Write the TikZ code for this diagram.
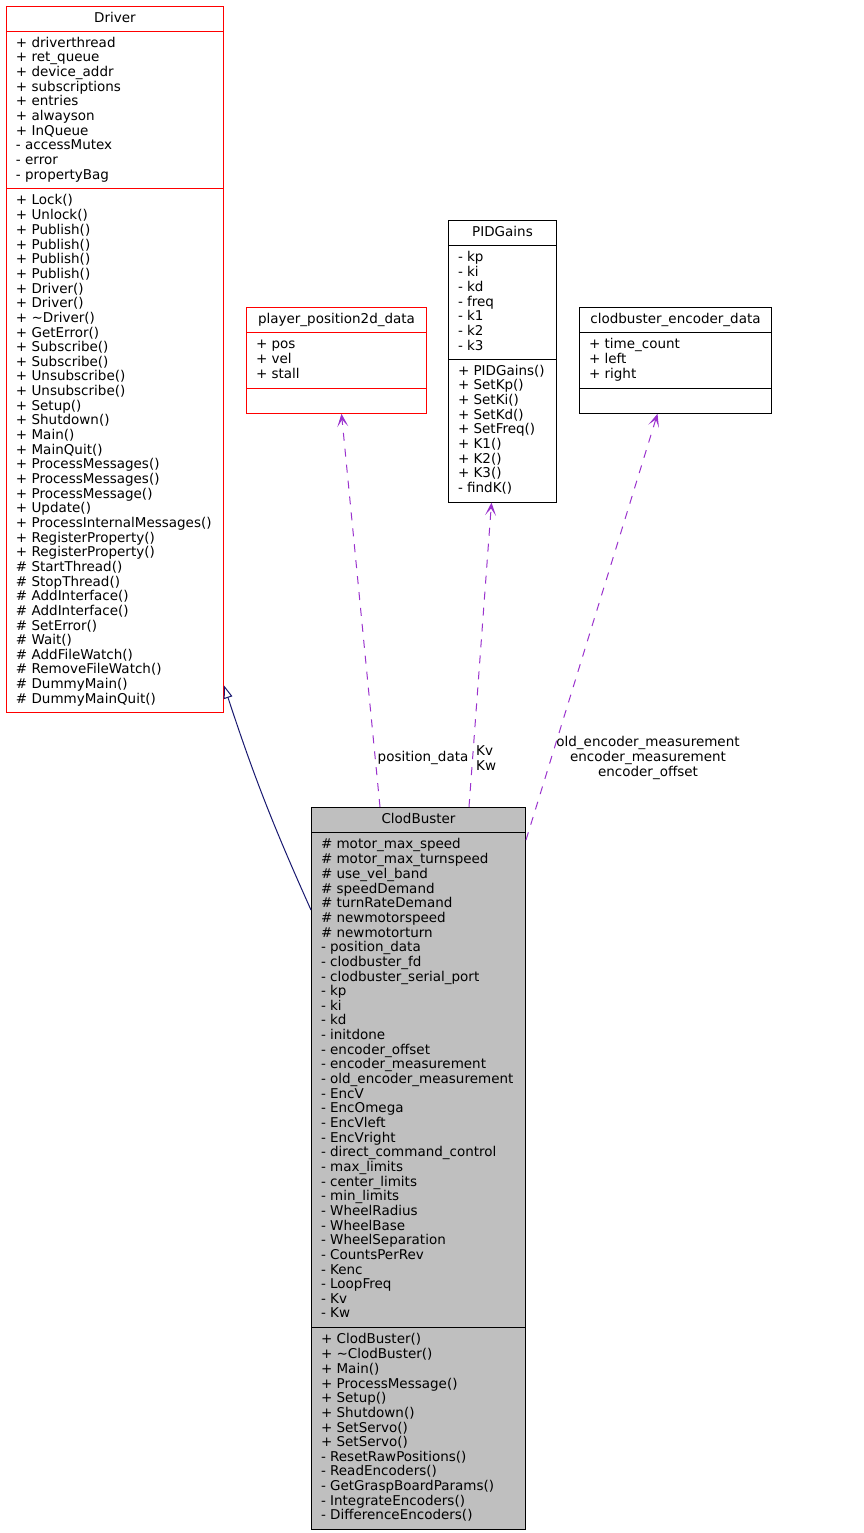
\documentclass[tikz,border=0pt]{standalone}
\usepackage{fontspec}
\setmainfont{DejaVu Sans}
\usetikzlibrary{shapes.multipart,arrows.meta}
\definecolor{edgeblue}{HTML}{191970}
\definecolor{edgepurple}{HTML}{9A32CD}
\definecolor{classgray}{HTML}{BFBFBF}
\tikzset{
  umlfont/.style={font=\fontsize{13.5}{14.65}\selectfont},
  umlclass/.style={umlfont, draw=black, line width=1pt, rectangle split,
    rectangle split parts=3, rectangle split part align={center,left,left},
    anchor=north west, inner xsep=9.5pt, inner ysep=4.75pt, align=left},
  inherit/.style={draw=edgeblue, line width=1pt, -{Triangle[open,length=13pt,width=9pt]}},
  usage/.style={draw=edgepurple, line width=1pt, dash pattern=on 8pt off 8pt,
    -{Stealth[length=13pt,width=11pt,inset=7pt]}},
  lbl/.style={umlfont, inner sep=0pt}
}
\begin{document}
\begin{tikzpicture}[x=1pt,y=-1pt]
  \useasboundingbox (0,0) rectangle (864,1533);
  % classes
  \node[umlclass,draw=red,minimum width=217pt] (driver) at (6,6) {\strut Driver
    \nodepart{two}\strut + driverthread\\+ ret\_queue\\+ device\_addr\\+ subscriptions\\+ entries\\
      + alwayson\\+ InQueue\\- accessMutex\\- error\\- propertyBag\strut
    \nodepart{three}\strut + Lock()\\+ Unlock()\\+ Publish()\\+ Publish()\\+ Publish()\\+ Publish()\\
      + Driver()\\+ Driver()\\+ \textasciitilde Driver()\\+ GetError()\\+ Subscribe()\\+ Subscribe()\\
      + Unsubscribe()\\+ Unsubscribe()\\+ Setup()\\+ Shutdown()\\+ Main()\\+ MainQuit()\\
      + ProcessMessages()\\+ ProcessMessages()\\+ ProcessMessage()\\+ Update()\\
      + ProcessInternalMessages()\\+ RegisterProperty()\\+ RegisterProperty()\\
      \# StartThread()\\\# StopThread()\\\# AddInterface()\\\# AddInterface()\\\# SetError()\\
      \# Wait()\\\# AddFileWatch()\\\# RemoveFileWatch()\\\# DummyMain()\\\# DummyMainQuit()\strut};
  \node[umlclass,draw=red,minimum width=180pt] (posdata) at (246,307) {\strut player\_position2d\_data
    \nodepart{two}\strut + pos\\+ vel\\+ stall\strut
    \nodepart{three}\strut};
  \node[umlclass,minimum width=108pt] (pidgains) at (448,220) {\strut PIDGains
    \nodepart{two}\strut - kp\\- ki\\- kd\\- freq\\- k1\\- k2\\- k3\strut
    \nodepart{three}\strut + PIDGains()\\+ SetKp()\\+ SetKi()\\+ SetKd()\\+ SetFreq()\\+ K1()\\+ K2()\\
      + K3()\\- findK()\strut};
  \node[umlclass,minimum width=192pt] (encdata) at (579,307) {\strut clodbuster\_encoder\_data
    \nodepart{two}\strut + time\_count\\+ left\\+ right\strut
    \nodepart{three}\strut};
  \node[umlclass,fill=classgray,minimum width=214pt] (clod) at (311,807) {\strut ClodBuster
    \nodepart{two}\strut \# motor\_max\_speed\\\# motor\_max\_turnspeed\\\# use\_vel\_band\\
      \# speedDemand\\\# turnRateDemand\\\# newmotorspeed\\\# newmotorturn\\- position\_data\\
      - clodbuster\_fd\\- clodbuster\_serial\_port\\- kp\\- ki\\- kd\\- initdone\\- encoder\_offset\\
      - encoder\_measurement\\- old\_encoder\_measurement\\- EncV\\- EncOmega\\- EncVleft\\
      - EncVright\\- direct\_command\_control\\- max\_limits\\- center\_limits\\- min\_limits\\
      - WheelRadius\\- WheelBase\\- WheelSeparation\\- CountsPerRev\\- Kenc\\- LoopFreq\\
      - Kv\\- Kw\strut
    \nodepart{three}\strut + ClodBuster()\\+ \textasciitilde ClodBuster()\\+ Main()\\
      + ProcessMessage()\\+ Setup()\\+ Shutdown()\\+ SetServo()\\+ SetServo()\\
      - ResetRawPositions()\\- ReadEncoders()\\- GetGraspBoardParams()\\- IntegrateEncoders()\\
      - DifferenceEncoders()\strut};
  % edge labels
  \node[lbl] (poslbl) at (423,758) {position\_data};
  \node[lbl,anchor=west,align=left] (kvlbl) at (476,758) {Kv\\Kw};
  \node[lbl,align=center] (enclbl) at (648,758) {old\_encoder\_measurement\\encoder\_measurement\\encoder\_offset};
  % edges
  \draw[inherit] ([yshift=-103pt]clod.north west) to[bend left=3] ([yshift=28pt]driver.south east);
  \draw[usage] ([xshift=69pt]clod.north west) -- ([xshift=5pt]posdata.south);
  \draw[usage] ([xshift=158pt]clod.north west) -- ([xshift=-11pt]pidgains.south);
  \draw[usage] ([yshift=-33pt]clod.north east) -- ([xshift=-18pt]encdata.south);
\end{tikzpicture}
\end{document}
